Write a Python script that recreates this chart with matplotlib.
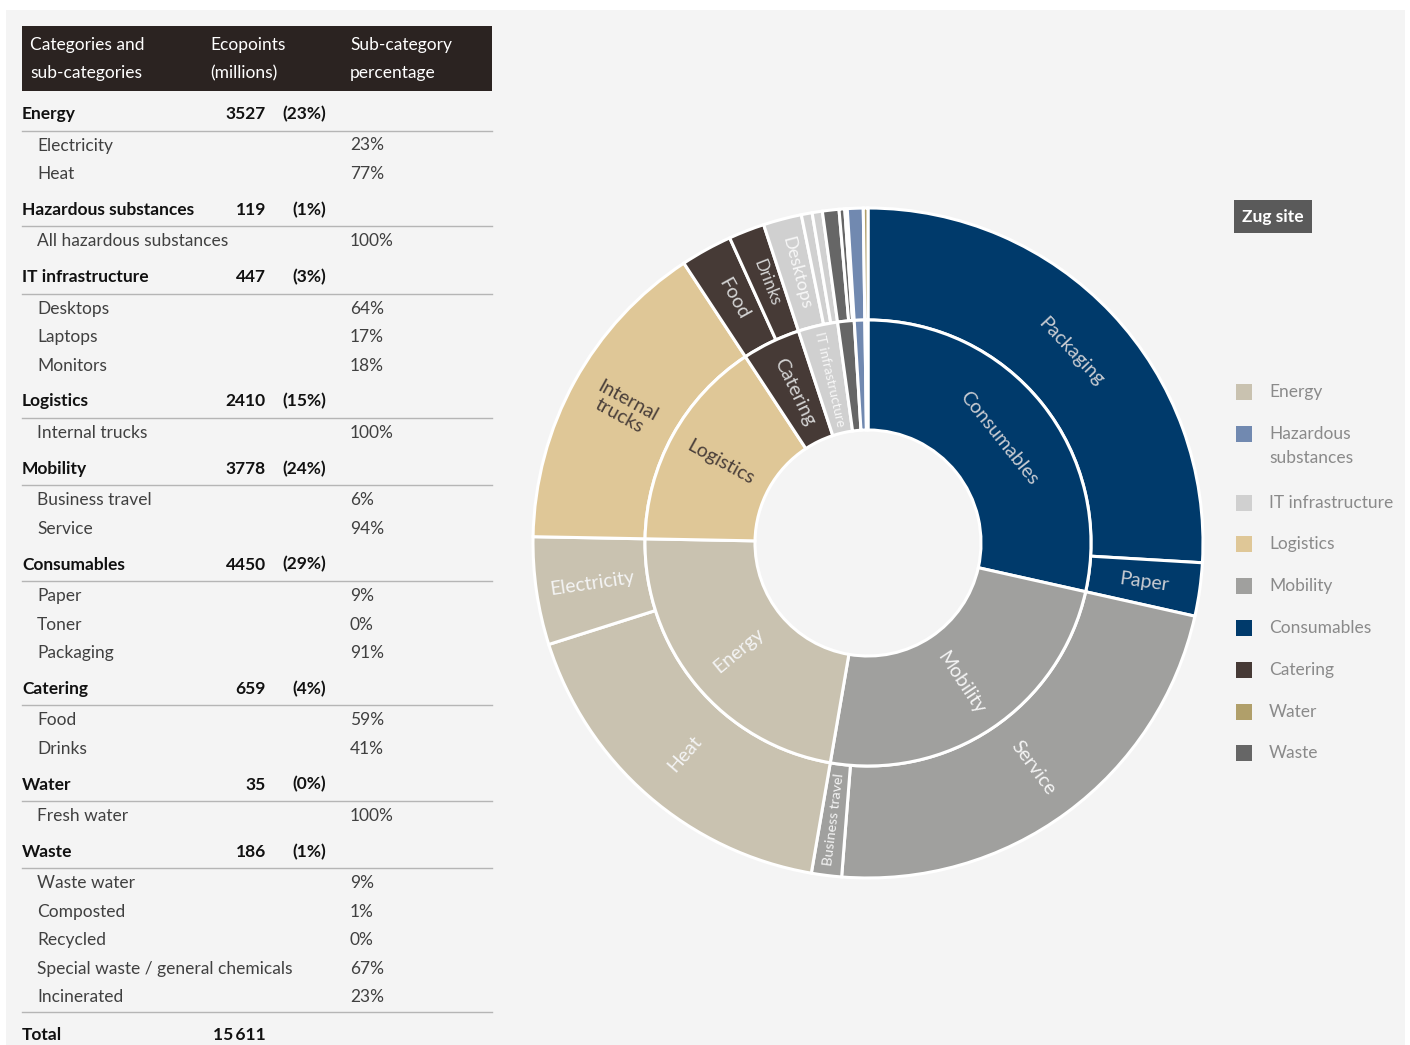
import numpy as np
import matplotlib
matplotlib.use('Agg')
import matplotlib.pyplot as plt
from matplotlib.patches import Rectangle

plt.rcParams['font.family'] = ['Lato', 'DejaVu Sans']

# Данные: категории, экопункты (млн), доли подкатегорий
categories = ['Energy', 'Hazardous substances', 'IT infrastructure', 'Logistics',
              'Mobility', 'Consumables', 'Catering', 'Water', 'Waste']
ecopoints = [3527, 119, 447, 2410, 3778, 4450, 659, 35, 186]
cat_pct = [23, 1, 3, 15, 24, 29, 4, 0, 1]
subcats = [['Electricity', 'Heat'],
           ['All hazardous substances'],
           ['Desktops', 'Laptops', 'Monitors'],
           ['Internal trucks'],
           ['Business travel', 'Service'],
           ['Paper', 'Toner', 'Packaging'],
           ['Food', 'Drinks'],
           ['Fresh water'],
           ['Waste water', 'Composted', 'Recycled',
            'Special waste / general chemicals', 'Incinerated']]
sub_pct = [[23, 77], [100], [64, 17, 18], [100], [6, 94], [9, 0, 91],
           [59, 41], [100], [9, 1, 0, 67, 23]]
total = '15\u2009611'

colors = {'Energy': '#c9c2b0', 'Hazardous substances': '#7189b0',
          'IT infrastructure': '#d0d0d0', 'Logistics': '#dfc797',
          'Mobility': '#a0a09e', 'Consumables': '#003a6b',
          'Catering': '#463a36', 'Water': '#b09f6a', 'Waste': '#666666'}
label_colors = {'Consumables': '#c9ccd2', 'Mobility': '#f4f4f4',
                'Energy': '#f4f4f4', 'Logistics': '#4a3f3a',
                'Catering': '#d4d4d4', 'IT infrastructure': '#f7f7f7'}
outer_names = {'Internal trucks': 'Internal\ntrucks'}
tangential = {'Packaging', 'Consumables'}

W, H = 1410, 1045
fig = plt.figure(figsize=(W / 100, H / 100), dpi=100, facecolor='white')
bg = fig.add_axes([0, 0, 1, 1])
bg.set_xlim(0, W)
bg.set_ylim(H, 0)
bg.axis('off')
bg.add_patch(Rectangle((6, 10), 1399, 1040, fc='#f4f4f4', ec='none'))

# ---------- таблица ----------
fs = 12.5
bg.add_patch(Rectangle((22, 26), 470, 65, fc='#2b2321', ec='none'))
for x, t in [(30, 'Categories and\nsub-categories'), (210, 'Ecopoints\n(millions)'),
             (350, 'Sub-category\npercentage')]:
    l1, l2 = t.split('\n')
    bg.text(x, 45, l1, color='white', fontsize=fs, va='center')
    bg.text(x, 73, l2, color='white', fontsize=fs, va='center')

y = 114
for i, cat in enumerate(categories):
    bg.text(22, y, cat, fontsize=fs, fontweight='bold', color='#111111', va='center')
    bg.text(266, y, str(ecopoints[i]), fontsize=fs, fontweight='bold',
            color='#111111', va='center', ha='right')
    bg.text(326, y, f'({cat_pct[i]}%)', fontsize=fs, fontweight='bold',
            color='#111111', va='center', ha='right')
    bg.plot([22, 492], [y + 16.5, y + 16.5], color='#b5b5b5', lw=1)
    sy = y + 31.5
    for j, s in enumerate(subcats[i]):
        bg.text(37, sy, s, fontsize=fs, color='#404040', va='center')
        bg.text(350, sy, f'{sub_pct[i][j]}%', fontsize=fs, color='#404040', va='center')
        if j < len(subcats[i]) - 1:
            sy += 28.5
    y = sy + 35.8
last = sy + 15
bg.plot([22, 492], [last, last], color='#b5b5b5', lw=1)
bg.text(22, last + 23, 'Total', fontsize=fs, fontweight='bold', color='#111111', va='center')
bg.text(266, last + 23, total, fontsize=fs, fontweight='bold', color='#111111',
        va='center', ha='right')

# ---------- кольцевая диаграмма ----------
cx, cy, R = 868, 543, 335
ax = fig.add_axes([(cx - R) / W, (H - cy - R) / H, 2 * R / W, 2 * R / H])
ax.patch.set_alpha(0)

order = sorted(range(len(categories)), key=lambda k: -ecopoints[k])
inner_vals, inner_cols, inner_lab = [], [], []
outer_vals, outer_cols, outer_lab = [], [], []
for k in order:
    cat = categories[k]
    inner_vals.append(ecopoints[k])
    inner_cols.append(colors[cat])
    inner_lab.append(cat)
    subs = sorted(zip(sub_pct[k], subcats[k]), key=lambda p: -p[0])
    tot = sum(sub_pct[k])
    for p, s in subs:
        if p == 0:
            continue
        outer_vals.append(ecopoints[k] * p / tot)
        outer_cols.append(colors[cat])
        outer_lab.append((s, cat))

r_hole, r_mid = 113 / R, 223 / R
ax.pie(outer_vals, radius=1.0, colors=outer_cols, startangle=90, counterclock=False,
       wedgeprops=dict(width=1.0 - r_mid, edgecolor='white', linewidth=2.2))
ax.pie(inner_vals, radius=r_mid, colors=inner_cols, startangle=90, counterclock=False,
       wedgeprops=dict(width=r_mid - r_hole, edgecolor='white', linewidth=2.2))
ax.set_xlim(-1, 1)
ax.set_ylim(-1, 1)
ax.set_aspect('equal')
ax.axis('off')

lab_fs = 14


def put_labels(vals, names, cats, r, ring):
    tot = sum(vals)
    cum = 0
    for v, name, cat in zip(vals, names, cats):
        width = 360 * v / tot
        th = 360 * (cum + v / 2) / tot
        cum += v
        if width < 5:
            continue
        phi = np.radians(90 - th)
        x, y = r * np.cos(phi), r * np.sin(phi)
        if name in tangential:
            rot = -th
            if 90 < th < 270:
                rot += 180
            size = lab_fs
        else:
            rot = 90 - th
            if th > 180:
                rot += 180
            arc = r * R * np.radians(width)
            longest = max(len(p) for p in name.split('\n'))
            size = min(lab_fs, 0.4 * arc, 1.5 * ring * R / longest)
        ax.text(x, y, name, rotation=rot, rotation_mode='anchor', ha='center',
                va='center', fontsize=size, color=label_colors.get(cat, 'white'),
                linespacing=1.05)


put_labels(inner_vals, inner_lab, inner_lab, (r_hole + r_mid) / 2, r_mid - r_hole)
put_labels(outer_vals, [outer_names.get(s, s) for s, c in outer_lab],
           [c for s, c in outer_lab], (r_mid + 1) / 2, 1 - r_mid)

# ---------- подпись и легенда ----------
bg.add_patch(Rectangle((1234, 200), 78, 33, fc='#5a5a5a', ec='none'))
bg.text(1273, 217, 'Zug site', color='white', fontsize=fs, fontweight='bold',
        ha='center', va='center')

leg_names = {'Hazardous substances': 'Hazardous\nsubstances'}
ly = 392
for cat in categories:
    bg.add_patch(Rectangle((1236, ly - 8), 16, 16, fc=colors[cat], ec='none'))
    name = leg_names.get(cat, cat)
    bg.text(1269, ly - 8, name, fontsize=fs, color='#8a8a8a',
            va='top', linespacing=1.65)
    ly += 41.8 + 27 * name.count('\n')

fig.savefig('out.png', dpi=100, facecolor='white')
